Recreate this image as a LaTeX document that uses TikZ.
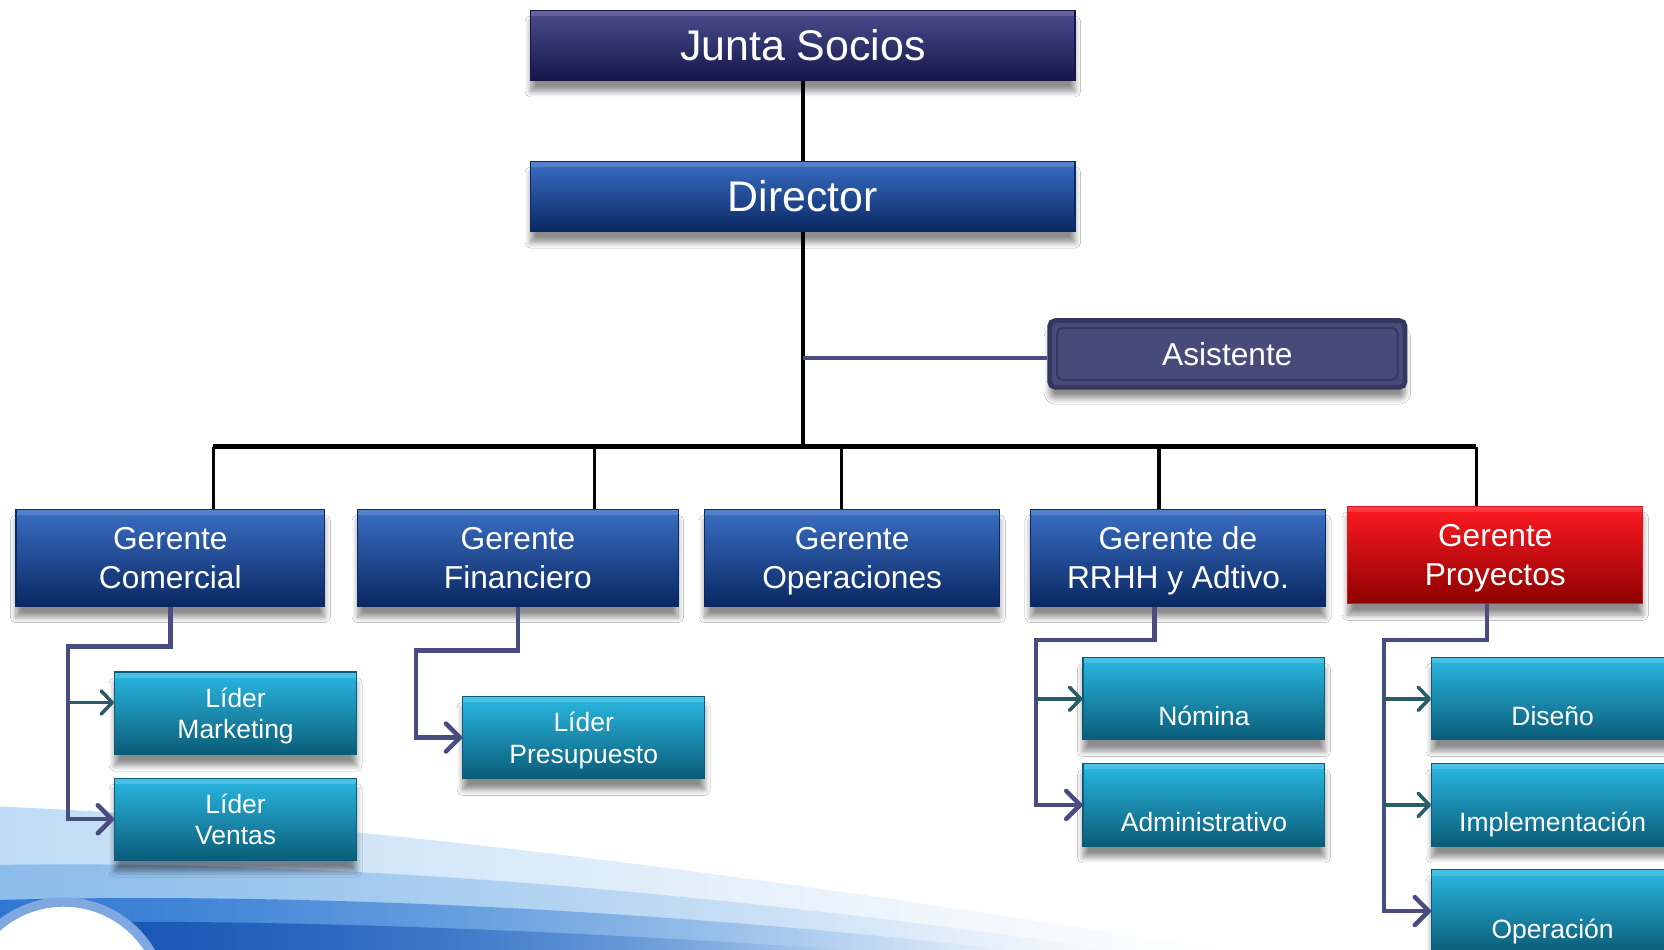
\documentclass[tikz,border=0pt]{standalone}
\usepackage{fontspec}
\setmainfont{Liberation Sans}
\usetikzlibrary{positioning, arrows.meta, shadows.blur, fadings}

\definecolor{juntatop}{HTML}{4A4E8E}
\definecolor{juntabot}{HTML}{15174A}
\definecolor{dirtop}{HTML}{3A6EC4}
\definecolor{dirmid}{HTML}{10408E}
\definecolor{dirbot}{HTML}{0A2862}
\definecolor{leadtop}{HTML}{2AB8E2}
\definecolor{leadmid}{HTML}{0A94B8}
\definecolor{leadbot}{HTML}{0A5C78}
\definecolor{redtop}{HTML}{FF1A22}
\definecolor{redmid}{HTML}{D00000}
\definecolor{redbot}{HTML}{8C0000}
\definecolor{asisfill}{HTML}{474B7A}
\definecolor{asisedge}{HTML}{343860}
\definecolor{slate}{HTML}{494C7E}
\definecolor{darkteal}{HTML}{2A5C68}
\definecolor{hazeblue}{HTML}{BFDCF6}
\definecolor{midblue}{HTML}{8DBDEB}
\definecolor{bandblue}{HTML}{2F78D2}
\definecolor{deepblue}{HTML}{1550B0}
\definecolor{ringblue}{HTML}{7FA8E0}

\tikzfading[name=fade right, left color=transparent!0, right color=transparent!100]

\begin{document}
\begin{tikzpicture}[
    x=0.02cm, y=-0.02cm,
    node distance=2cm,
    on grid,
    box/.style={rectangle, inner sep=0pt, align=center, text=white, text depth=0pt,
        blur shadow={shadow xshift=0pt, shadow yshift=-6pt, shadow blur radius=3pt, shadow blur steps=8, shadow opacity=45},
        path picture={\fill[white, opacity=0.15] (path picture bounding box.north west) rectangle ([yshift=-3pt]path picture bounding box.north east);}},
    boss/.style={box, minimum width=10.26cm, minimum height=1.32cm, font=\fontsize{23}{27}\selectfont},
    manager/.style={box, minimum height=1.82cm, font=\fontsize{17}{21}\selectfont,
        top color=dirtop, middle color=dirmid, bottom color=dirbot, draw=dirbot, line width=0.6pt},
    lead/.style={box, minimum width=4.56cm, minimum height=1.55cm, font=\fontsize{14.2}{17}\selectfont,
        top color=leadtop, middle color=leadmid, bottom color=leadbot, draw=leadbot, line width=0.6pt},
    low/.style={text height=29pt, text depth=0pt},
    trunk/.style={draw=black, line width=1.8pt},
    link/.style={draw=slate, line width=2.4pt, -{Straight Barb[length=7.5pt, width=15pt, round]}},
    sublink/.style={draw=darkteal, line width=1.9pt, -{Straight Barb[length=6pt, width=12.5pt, round]}}
]

   % Background
   \useasboundingbox (0,0) rectangle (1568,895);
   \fill[white] (0,0) rectangle (1568,895);
   \fill[hazeblue, path fading=fade right] (0,760) .. controls (350,775) and (750,830) .. (1150,895) -- (0,895) -- cycle;
   \fill[midblue, path fading=fade right] (0,815) .. controls (350,810) and (700,845) .. (1050,895) -- (0,895) -- cycle;
   \fill[bandblue, path fading=fade right] (0,848) .. controls (300,840) and (650,860) .. (950,895) -- (0,895) -- cycle;
   \fill[deepblue, path fading=fade right] (0,870) .. controls (250,864) and (550,878) .. (800,895) -- (0,895) -- cycle;
   \filldraw[fill=white, draw=ringblue, line width=5pt] (60,945) circle (95);

   % Boxes
   \node[boss, top color=juntatop, bottom color=juntabot, draw=juntabot, line width=0.6pt] (junta) at (756.5,42.5) {Junta Socios};
   \node[boss, top color=dirtop, middle color=dirmid, bottom color=dirbot, draw=dirbot, line width=0.6pt] (director) at (756.5,185) {Director};
   \node[box, minimum width=6.7cm, minimum height=1.26cm, fill=asisfill, draw=asisedge, line width=2.5pt, rounded corners=3pt,
         font=\fontsize{17}{20}\selectfont,
         path picture={\draw[asisedge, line width=1.1pt] ([shift={(4pt,-4pt)}]path picture bounding box.north west) rectangle ([shift={(-4pt,4pt)}]path picture bounding box.south east);}]
         (asist) at (1156.5,333.5) {Asistente};

   \node[manager, minimum width=5.82cm] (gcom) at (160.5,525.5) {Gerente\\Comercial};
   \node[manager, minimum width=6.04cm] (gfin) at (488,525.5) {Gerente\\Financiero};
   \node[manager, minimum width=5.56cm] (gope) at (803,525.5) {Gerente\\Operaciones};
   \node[manager, minimum width=5.56cm] (grh) at (1110,525.5) {Gerente de\\RRHH y Adtivo.};
   \node[manager, minimum width=5.56cm, minimum height=1.84cm, top color=redtop, middle color=redmid, bottom color=redbot, draw=redtop!85!black] (gpro) at (1409,523) {Gerente\\Proyectos}; % highlighted

   \node[lead] (lmkt) at (222,672) {Líder\\Marketing};
   \node[lead] (lven) [below=of lmkt] {Líder\\Ventas};
   \node[lead] (lpre) at (550,695) {Líder\\Presupuesto};
   \node[lead, low] (nom) at (1134.5,658.5) {Nómina};
   \node[lead, low] (adm) [below=of nom] {Administrativo};
   \node[lead, low] (dis) at (1463,658.5) {Diseño};
   \node[lead, low] (imp) [below=of dis] {Implementación};
   \node[lead, low] (opr) [below=of imp] {Operación};

   % Top lines
   \coordinate (bus1) at (201,421);
   \coordinate (bus2) at (560,421);
   \coordinate (bus3) at (793,421);
   \coordinate (bus4) at (1092,421);
   \coordinate (bus5) at (1391,421);
   \draw[trunk] (junta) -- (director);
   \draw[trunk] (director.south) -- (director.south |- bus1);
   \draw[trunk, line width=2.5pt] (bus1) -- (bus5);
   \foreach \b/\g in {bus1/gcom, bus2/gfin, bus3/gope, bus4/grh, bus5/gpro}
      \draw[trunk] (\b) -- (\b |- \g.north);
   \coordinate (asin) at ([yshift=-2pt]asist.west);
   \draw[slate, line width=2pt] (director.south |- asin) -- (asin);

   % Sub lines
   \coordinate (tcom) at (64,609);
   \coordinate (tfin) at (392,613);
   \coordinate (trh) at (976,603);
   \coordinate (tpro) at (1304,603);
   \coordinate (mkt) at ([yshift=5.7pt]lmkt.west); % arrow sits a bit high
   \draw[link] (gcom.south) |- (tcom) |- (lven.west);
   \draw[sublink] (tcom |- mkt) -- (mkt);
   \draw[link] (gfin.south) |- (tfin) |- (lpre.west);
   \draw[link] ([xshift=-12.5pt]grh.south) |- (trh) |- (adm.west);
   \draw[sublink] (trh |- nom.west) -- (nom.west);
   \draw[link] ([xshift=-4.5pt]gpro.south) |- (tpro) |- (opr.west);
   \draw[sublink] (tpro |- dis.west) -- (dis.west);
   \draw[sublink] (tpro |- imp.west) -- (imp.west);
\end{tikzpicture}
\end{document}
